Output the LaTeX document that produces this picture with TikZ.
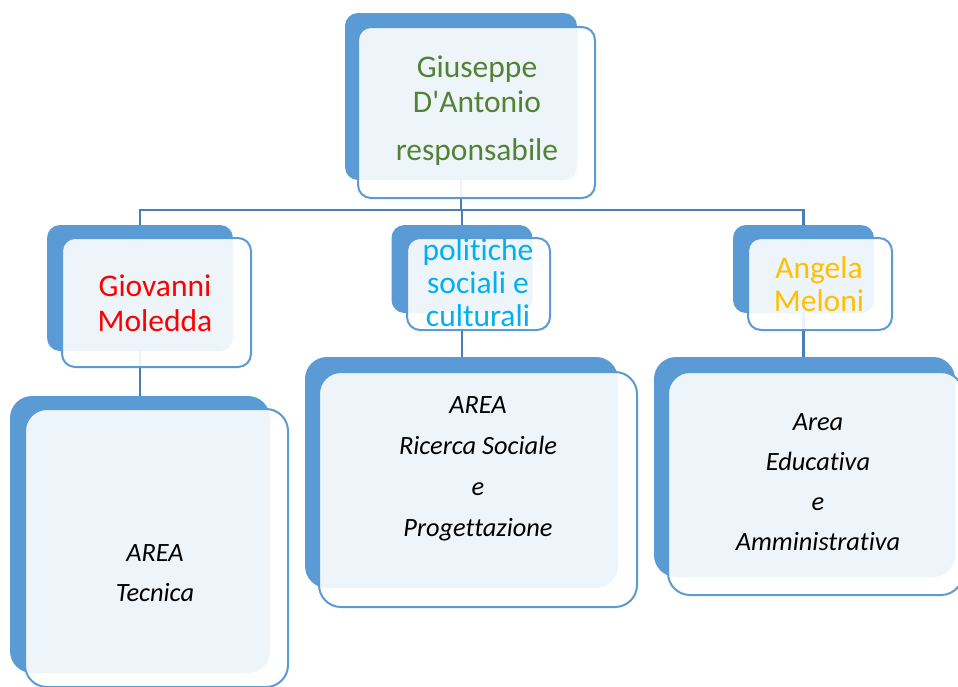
\documentclass[tikz,border=0pt]{standalone}
\usepackage{fontspec}
\setmainfont[Ligatures=NoCommon]{Carlito}
\definecolor{boxblue}{HTML}{5B9BD5}
\definecolor{lineblue}{HTML}{4A7EBB}
\definecolor{namegreen}{HTML}{538135}
\definecolor{namecyan}{HTML}{00B0F0}
\definecolor{nameyellow}{HTML}{FFC000}
\begin{document}
\begin{tikzpicture}[x=1pt,y=-1pt]
\tikzstyle{every node}+=[inner sep=0pt]
\tikzstyle{backbox}=[rectangle,fill=boxblue,rounded corners=13pt]
\tikzstyle{frontbox}=[rectangle,draw=boxblue,line width=2pt,fill=white,fill opacity=0.9,rounded corners=13pt]
\tikzstyle{bigback}=[backbox,rounded corners=22pt]
\tikzstyle{bigfront}=[frontbox,rounded corners=22pt]
\tikzstyle{link}=[draw=lineblue,line width=2.4pt]
\tikzstyle{nametext}=[align=center,font=\fontsize{31.5}{35}\selectfont]
\tikzstyle{areatext}=[align=center,font=\fontsize{26.4}{41}\selectfont\itshape]
\clip (0,0) rectangle (958,686);
\fill[white] (0,0) rectangle (958,686);
\node[backbox,minimum width=232pt,minimum height=167pt] (respB) at (461,96.5) {};
\node[backbox,minimum width=186pt,minimum height=126pt] (gioB) at (140,288) {};
\node[backbox,minimum width=141pt,minimum height=88pt] (polB) at (462,269) {};
\node[backbox,minimum width=141pt,minimum height=88pt] (angB) at (803.5,269) {};
\node[bigback,minimum width=260pt,minimum height=277pt] (tecB) at (140,534.5) {};
\node[bigback,minimum width=313pt,minimum height=231pt] (ricB) at (461.5,472.5) {};
\node[bigback,minimum width=301pt,minimum height=220pt] (eduB) at (804.5,467) {};
\draw[link] (respB.south) -- ++(0,30) coordinate (bus) -| (gioB.north);
\draw[link] (bus) -| (polB.north);
\draw[link] (bus) -| (angB.north);
\draw[link] (gioB.south) -- (tecB.north);
\draw[link] (polB.south) -- (polB.south |- ricB.north);
\draw[link] (angB.south) -- (angB.south |- eduB.north);
\node[frontbox,minimum width=237pt,minimum height=171pt] (respF) at (476.5,112.5) {};
\node[frontbox,minimum width=189pt,minimum height=129pt] (gioF) at (156.5,302.5) {};
\node[frontbox,minimum width=143pt,minimum height=92pt] (polF) at (478.5,284) {};
\node[frontbox,minimum width=144pt,minimum height=92pt] (angF) at (820,284) {};
\node[bigfront,minimum width=263pt,minimum height=278pt] (tecF) at (156.5,548) {};
\node[bigfront,minimum width=318pt,minimum height=235pt] (ricF) at (478,489.5) {};
\node[bigfront,minimum width=295pt,minimum height=223pt] (eduF) at (815.5,483.5) {};
\node[nametext,text=namegreen] (respT) at (477,111) {Giuseppe\\D\textquotesingle Antonio\\[13pt]responsabile};
\node[nametext,text=red] (gioT) at (155,303) {Giovanni\\Moledda};
\node[nametext,text=namecyan,font=\fontsize{31.5}{33}\selectfont] (polT) at (478,283) {politiche\\sociali e\\culturali};
\node[nametext,text=nameyellow,font=\fontsize{31.5}{33}\selectfont] (angT) at (819,284) {Angela\\Meloni};
\node[areatext,font=\fontsize{26.4}{40}\selectfont\itshape] (tecT) at (155,573) {AREA\\Tecnica};
\node[areatext] (ricT) at (478,468.5) {AREA\\Ricerca Sociale\\e\\Progettazione};
\node[areatext,font=\fontsize{26.4}{40}\selectfont\itshape] (eduT) at (818,482) {Area\\Educativa\\e\\Amministrativa};
\end{tikzpicture}
\end{document}
